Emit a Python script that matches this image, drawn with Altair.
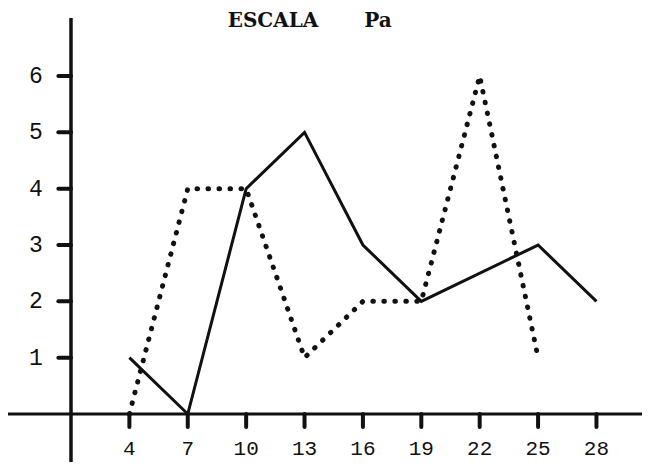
import altair as alt
import pandas as pd

# ---- data ----
x_ticks = [4, 7, 10, 13, 16, 19, 22, 25, 28]
y_ticks = [1, 2, 3, 4, 5, 6]

solid_x = [4, 7, 10, 13, 16, 19, 25, 28]
solid_y = [1, 0, 4, 5, 3, 2, 3, 2]

dotted_x = [4, 7, 10, 13, 16, 19, 22, 25]
dotted_y = [0, 4, 4, 1, 2, 2, 6, 1]

title_words = ["ESCALA", "Pa"]
title_word_x = [11.38, 16.78]

# ---- layout (data-space extents) ----
X_MIN, X_MAX = -2.237, 30.34
Y_MIN, Y_MAX = -0.852, 7.208
W, H = 634, 454

xs = alt.Scale(domain=[X_MIN, X_MAX], nice=False, zero=False)
ys = alt.Scale(domain=[Y_MIN, Y_MAX], nice=False, zero=False)

def X(field="x"):
    return alt.X(field, type="quantitative", scale=xs, axis=None)

def Y(field="y"):
    return alt.Y(field, type="quantitative", scale=ys, axis=None)

INK = "#111111"

solid_df = pd.DataFrame({"x": solid_x, "y": solid_y, "o": range(len(solid_x))})
dotted_df = pd.DataFrame({"x": dotted_x, "y": dotted_y, "o": range(len(dotted_x))})

# axes lines
xaxis = alt.Chart(pd.DataFrame({"x": [X_MIN], "x2": [X_MAX], "y": [0]})).mark_rule(
    color=INK, strokeWidth=3).encode(x=X(), x2="x2", y=Y())
yaxis = alt.Chart(pd.DataFrame({"x": [1], "y": [7.03], "y2": [Y_MIN]})).mark_rule(
    color=INK, strokeWidth=3.5).encode(x=X(), y=Y(), y2="y2")

# ticks
xt_df = pd.DataFrame({"x": x_ticks, "y": [0] * len(x_ticks), "y2": [-0.23] * len(x_ticks)})
xtick = alt.Chart(xt_df).mark_rule(color=INK, strokeWidth=4, strokeCap="round").encode(
    x=X(), y=Y(), y2="y2")
yt_df = pd.DataFrame({"y": y_ticks, "x": [1] * len(y_ticks), "x2": [0.35] * len(y_ticks)})
ytick = alt.Chart(yt_df).mark_rule(color=INK, strokeWidth=4, strokeCap="round").encode(
    x=X(), x2="x2", y=Y())

# tick labels
xl_df = pd.DataFrame({"x": x_ticks, "y": [-0.43] * len(x_ticks), "t": [str(v) for v in x_ticks]})
xlab = alt.Chart(xl_df).mark_text(font="Liberation Mono", fontSize=21, color=INK,
                                  align="center", baseline="top").encode(
    x=X(), y=Y(), text="t:N")
yl_df = pd.DataFrame({"y": y_ticks, "x": [-0.8] * len(y_ticks), "t": [str(v) for v in y_ticks]})
ylab = alt.Chart(yl_df).mark_text(font="Liberation Mono", fontSize=23, color=INK,
                                  align="center", baseline="middle").encode(
    x=X(), y=Y(), text="t:N")

# title (two words, wide gap as on the original)
tt_df = pd.DataFrame({"x": title_word_x, "y": [6.98, 6.98], "t": title_words})
title = alt.Chart(tt_df).mark_text(font="DejaVu Serif", fontSize=20, fontWeight="bold",
                                   color=INK, align="center", baseline="middle").encode(
    x=X(), y=Y(), text="t:N")

# series
solid = alt.Chart(solid_df).mark_line(color=INK, strokeWidth=3, strokeJoin="miter").encode(
    x=X(), y=Y(), order="o:Q")
dotted = alt.Chart(dotted_df).mark_line(color=INK, strokeWidth=5, strokeCap="round",
                                        strokeDash=[0.5, 10.5]).encode(
    x=X(), y=Y(), order="o:Q")

chart = alt.layer(xaxis, yaxis, xtick, ytick, xlab, ylab, title, solid, dotted).properties(
    width=W, height=H, autosize=alt.AutoSizeParams(type="none"), padding=0,
    background="white"
).configure_view(stroke=None)

chart.save("out.html", embed_options={"renderer": "svg", "actions": False})
